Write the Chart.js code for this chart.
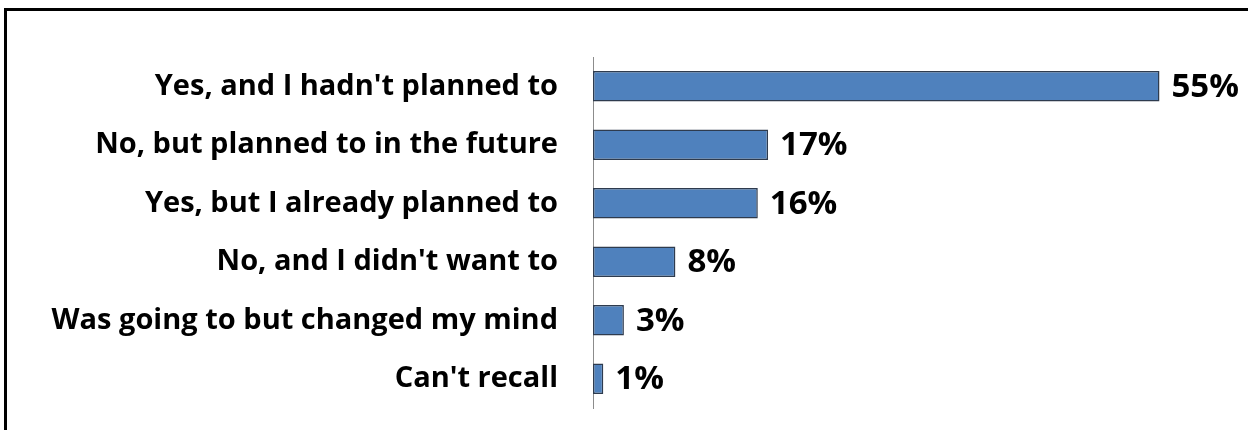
<!DOCTYPE html>
<html>
<head>
<meta charset="utf-8">
<script src="https://cdn.jsdelivr.net/npm/chart.js@4"></script>
<style>
  html, body { margin: 0; padding: 0; background: #fff; }
  #wrap { position: relative; width: 1248px; height: 430px; overflow: hidden; }
  #frame {
    position: absolute; left: 4px; top: 8px; width: 1300px; height: 500px;
    border-left: 3px solid #000; border-top: 3px solid #000;
  }
  #chart { position: absolute; left: 0; top: 0; }
</style>
</head>
<body>
<div id="wrap">
  <div id="frame"></div>
  <canvas id="chart" width="1248" height="430"></canvas>
</div>
<script>
// Answers and share of respondents (%)
const answers = [
  "Yes, and I hadn't planned to",
  "No, but planned to in the future",
  "Yes, but I already planned to",
  "No, and I didn't want to",
  "Was going to but changed my mind",
  "Can't recall",
];
const shares = [55, 17, 16, 8, 3, 1];

const FONT = "'Open Sans', 'DejaVu Sans', sans-serif";

// Draws "NN%" to the right of each bar
const valueLabels = {
  id: "valueLabels",
  afterDatasetsDraw(chart) {
    const ctx = chart.ctx;
    const meta = chart.getDatasetMeta(0);
    ctx.save();
    ctx.font = "bold 33px " + FONT;
    ctx.fillStyle = "#000";
    ctx.textAlign = "left";
    ctx.textBaseline = "middle";
    meta.data.forEach((bar, i) => {
      ctx.fillText(shares[i] + "%", bar.x + 12, bar.y + 1);
    });
    ctx.restore();
  },
};

new Chart(document.getElementById("chart").getContext("2d"), {
  type: "bar",
  data: {
    labels: answers,
    datasets: [
      {
        data: shares,
        backgroundColor: "#4F81BD",
        borderColor: "#2E3B4E",
        borderWidth: 1.5,
        borderSkipped: false,
        barPercentage: 0.52,
        categoryPercentage: 1,
      },
    ],
  },
  options: {
    indexAxis: "y",
    responsive: false,
    animation: false,
    layout: {
      padding: { top: 57, bottom: 22, right: 37, left: 0 },
    },
    scales: {
      x: {
        display: false,
        min: 0,
        max: 60,
      },
      y: {
        afterFit(scale) {
          scale.width = 593; // axis line sits at x = 593
          scale.paddingTop = 0;
          scale.paddingBottom = 0;
        },
        grid: { display: false, drawTicks: false },
        border: { display: true, color: "#8c8c8c", width: 1 },
        ticks: {
          color: "#000",
          padding: 35,
          font: { family: FONT, size: 29, weight: "bold" },
        },
      },
    },
    plugins: {
      legend: { display: false },
      tooltip: { enabled: false },
    },
  },
  plugins: [valueLabels],
});
</script>
</body>
</html>
